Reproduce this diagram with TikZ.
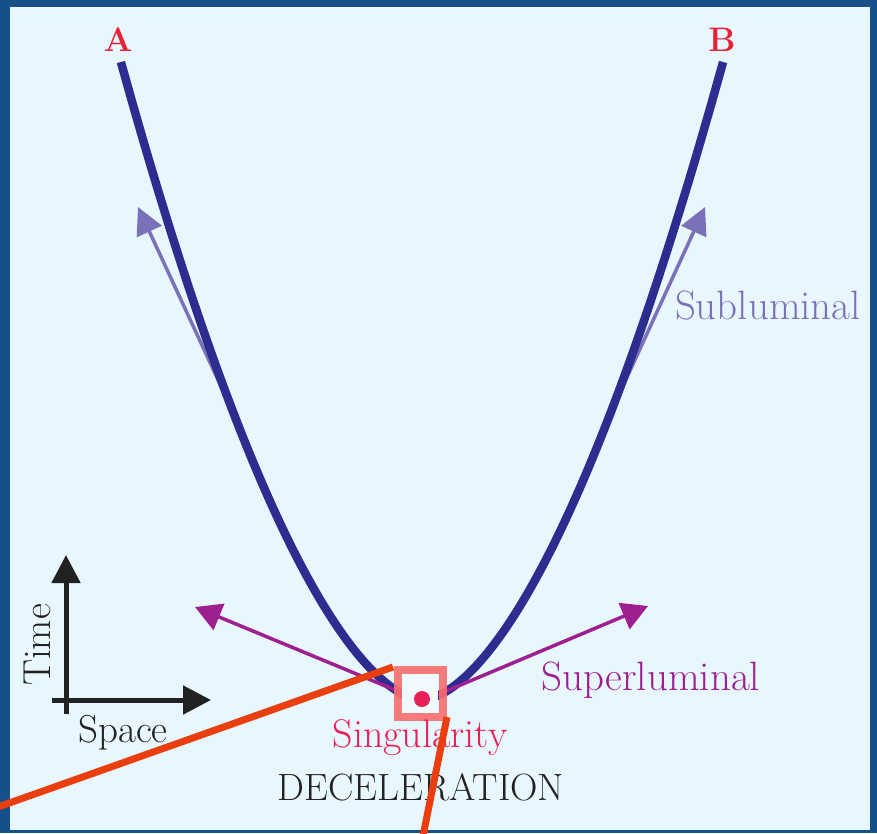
\documentclass[tikz,border=0pt]{standalone}
\usetikzlibrary{arrows.meta}
\definecolor{frameblue}{RGB}{23,80,136}
\definecolor{bgblue}{RGB}{232,246,254}
\definecolor{curveblue}{RGB}{45,45,143}
\definecolor{subcol}{RGB}{122,114,184}
\definecolor{supercol}{RGB}{158,32,144}
\definecolor{singcol}{RGB}{232,32,88}
\definecolor{boxcol}{RGB}{250,110,110}
\definecolor{calloutcol}{RGB}{232,62,16}
\definecolor{labred}{RGB}{230,34,56}
\definecolor{textdark}{RGB}{34,34,34}
\tikzset{
  worldline/.style={draw=curveblue, line width=8.5pt, line cap=butt},
  subarrow/.style={draw=subcol, line width=3.5pt, -{Triangle[length=27pt,width=27pt]}},
  superarrow/.style={draw=supercol, line width=3.5pt, -{Triangle[length=26pt,width=28pt]}},
  axisarrow/.style={draw=textdark, line width=5pt, -{Triangle[length=28pt,width=28pt]}},
  callout/.style={draw=calloutcol, line width=7pt},
  lab/.style={inner sep=0pt, anchor=base, font=\fontsize{39}{42}\selectfont},
}
\begin{document}
\begin{tikzpicture}[x=1pt,y=-1pt]
\useasboundingbox (0,0) rectangle (877,833);
% frame
\fill[frameblue] (0,0) rectangle (877,833);
\fill[bgblue] (10,7) rectangle (870,830);

% coordinates
\coordinate (sl0) at (232,410);
\coordinate (sl1) at (138,207);
\coordinate (sr0) at (612,410);
\coordinate (sr1) at (705,207);
\coordinate (pl0) at (412,697);
\coordinate (pl1) at (195,607);
\coordinate (pr0) at (432,697);
\coordinate (pr1) at (648,606);
\coordinate (tx0) at (66,714);
\coordinate (tx1) at (66,555);
\coordinate (sx0) at (52,700);
\coordinate (sx1) at (211,700);
\coordinate (boxTL) at (393,667);
\coordinate (boxBR) at (447,717);
\coordinate (cl1) at (-2,807);
\coordinate (cl2) at (423,836);

% subluminal arrows
\draw[subarrow] (sl0) -- (sl1);
\draw[subarrow] (sr0) -- (sr1);

% world line: x = 422 -+ 6.84 u^0.586, y = 700 - u
\draw[worldline] plot[domain=638:2, samples=120, smooth]
  ({422-6.84*pow(\x,0.586)},{700-\x});
\draw[worldline] plot[domain=2:638, samples=120, smooth]
  ({422+6.84*pow(\x,0.586)},{700-\x});

% superluminal arrows
\draw[superarrow] (pl0) -- (pl1);
\draw[superarrow] (pr0) -- (pr1);

% singularity box
\fill[bgblue!60!white] (402,673) rectangle (438,713);
\draw[boxcol, opacity=0.9, line width=8pt] (397.5,669.5) rectangle (442.5,717);
\node[circle, fill=singcol, minimum size=16pt, inner sep=0pt] (dot) at (422,699) {};

% axes
\draw[axisarrow] (tx0) -- (tx1);
\draw[axisarrow] (sx0) -- (sx1);

% labels
\node[lab, font=\fontsize{34}{40}\selectfont\bfseries, text=labred] (A) at (118,51) {A};
\node[lab, font=\fontsize{34}{40}\selectfont\bfseries, text=labred] (B) at (722,51) {B};
\node[lab, text=subcol, font=\fontsize{41}{44}\selectfont] (sub) at (768,319) {Subluminal};
\node[lab, text=supercol, font=\fontsize{41}{44}\selectfont] (sup) at (651,690) {Superluminal};
\node[lab, text=singcol, font=\fontsize{40}{44}\selectfont] (sing) at (420,747) {Singularity};
\node[lab, text=textdark, font=\fontsize{38}{42}\selectfont] (dec) at (421,800) {DECELERATION};
\node[lab, text=textdark] (space) at (123,742) {Space};
\node[lab, text=textdark, rotate=90] (time) at (50,645) {Time};

% callout lines
\draw[callout] (cl1) -- (boxTL);
\draw[callout] (boxBR) -- (cl2);
\end{tikzpicture}
\end{document}
